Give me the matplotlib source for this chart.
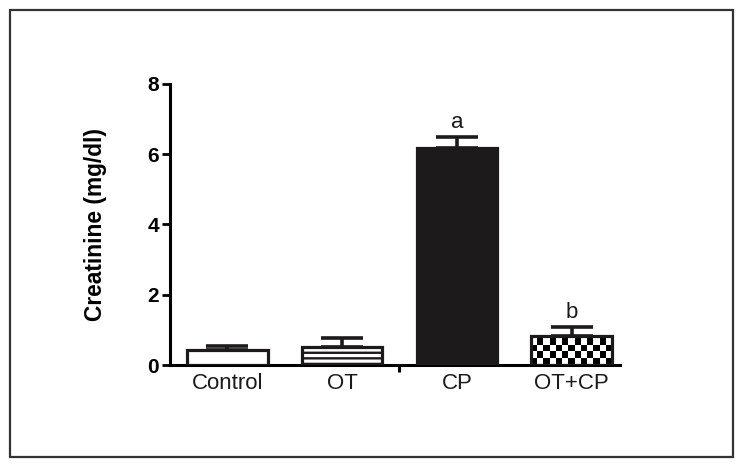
import numpy as np
import matplotlib
matplotlib.use("Agg")
import matplotlib.pyplot as plt
from matplotlib.patches import Rectangle

# data
groups = ["Control", "OT", "CP", "OT+CP"]
means = [0.42, 0.51, 6.17, 0.82]
sem = [0.12, 0.25, 0.31, 0.25]
letters = ["", "", "a", "b"]
y_ticks = [0, 2, 4, 6, 8]

plt.rcParams["font.family"] = ["Liberation Sans", "DejaVu Sans"]
plt.rcParams["hatch.linewidth"] = 1.7

fig = plt.figure(figsize=(7.44, 4.69), dpi=100)
ax = fig.add_axes([0.2285, 0.2217, 0.6045, 0.5993])

# outer frame around the whole figure
fig.patches.append(Rectangle((0.0134, 0.0256), 0.9716, 0.9531, transform=fig.transFigure,
                             fill=False, edgecolor="#333333", linewidth=1.6))

x = np.arange(len(groups))
faces = ["white", "white", "#1c1a1a", "none"]
hatches = [None, "---", None, None]

ax.errorbar(x, means, yerr=[np.zeros(len(sem)), sem], fmt="none", ecolor="#1c1a1a",
            elinewidth=2.6, capsize=15, capthick=2.6, zorder=2)

bars = ax.bar(x, means, width=0.7, color=faces, edgecolor="#1c1a1a", linewidth=2.3, zorder=3)
for b, h in zip(bars, hatches):
    if h:
        b.set_hatch(h)

# checkerboard fill for the last bar
cb = bars[3]
cols, rows = 13, 4
checker = np.indices((rows, cols)).sum(0) % 2
bx, bw, bh = cb.get_x(), cb.get_width(), cb.get_height()
img = ax.imshow(checker, cmap="gray_r", extent=(bx, bx + bw, 0, bh * 0.92), aspect="auto",
                interpolation="nearest", zorder=2.5)
img.set_clip_path(cb)

for xi, m, s, t in zip(x, means, sem, letters):
    if t:
        ax.text(xi, m + s + 0.12, t, ha="center", va="bottom", fontsize=16, color="#1c1a1a")

ax.set_xlim(-0.5, 3.42)
ax.set_ylim(0, 8)
ax.set_yticks(y_ticks)
ax.set_xticks(x)
ax.set_xticklabels(groups, fontsize=16, color="#1c1a1a")
ax.set_xticks([1.5], minor=True)
ax.tick_params(axis="x", which="major", length=0, pad=6)
ax.tick_params(axis="x", which="minor", length=5, width=2.2, direction="out")
ax.tick_params(axis="y", length=6, width=2, labelsize=15, pad=2)
for lab in ax.get_yticklabels():
    lab.set_fontweight("bold")

ax.set_ylabel("Creatinine (mg/dl)", fontsize=16.4, fontweight="bold", labelpad=29)

for side in ["top", "right"]:
    ax.spines[side].set_visible(False)
for side in ["left", "bottom"]:
    ax.spines[side].set_linewidth(2.2)

fig.savefig("out.png", dpi=100)
